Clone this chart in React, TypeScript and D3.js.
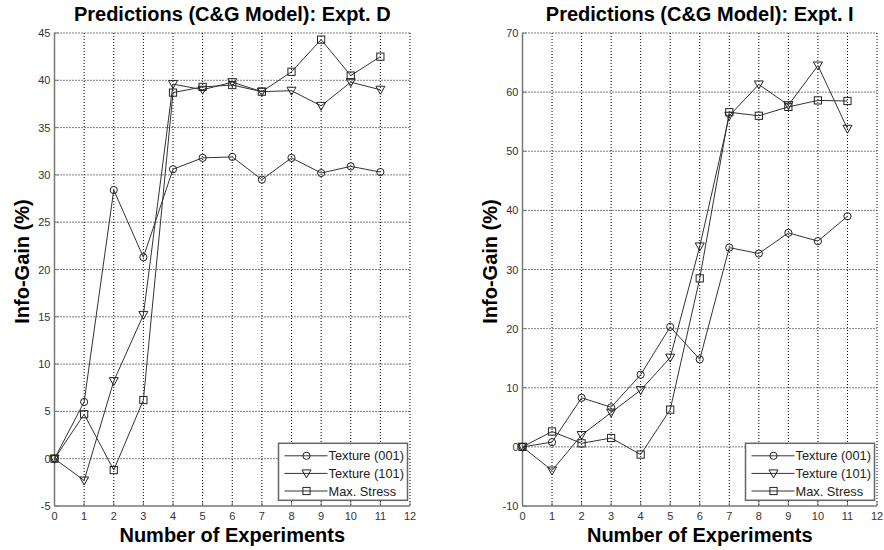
import React from "react";
import * as d3 from "d3";

const experiments = [0, 1, 2, 3, 4, 5, 6, 7, 8, 9, 10, 11];
const seriesNames = ["Texture (001)", "Texture (101)", "Max. Stress"];
const markerKinds = ["circle", "triangle", "square"];

// Expt. D
const dTexture001 = [0, 6.0, 28.4, 21.3, 30.6, 31.8, 31.9, 29.5, 31.8, 30.2, 30.9, 30.3];
const dTexture101 = [0, -2.3, 8.2, 15.2, 39.6, 39.0, 39.8, 38.8, 38.9, 37.3, 39.8, 39.0];
const dMaxStress = [0, 4.7, -1.2, 6.2, 38.7, 39.3, 39.5, 38.8, 40.9, 44.3, 40.5, 42.5];

// Expt. I
const iTexture001 = [0, 0.8, 8.3, 6.7, 12.2, 20.3, 14.8, 33.7, 32.7, 36.2, 34.8, 39.0];
const iTexture101 = [0, -4.0, 2.0, 5.8, 9.6, 15.1, 33.9, 56.0, 61.3, 57.8, 64.5, 53.8];
const iMaxStress = [0, 2.6, 0.6, 1.5, -1.3, 6.3, 28.5, 56.6, 56.0, 57.5, 58.6, 58.5];

const xTickValues = [0, 1, 2, 3, 4, 5, 6, 7, 8, 9, 10, 11, 12];
const yTicksD = [-5, 0, 5, 10, 15, 20, 25, 30, 35, 40, 45];
const yTicksI = [-10, 0, 10, 20, 30, 40, 50, 60, 70];

const titleD = "Predictions (C&G Model): Expt. D";
const titleI = "Predictions (C&G Model): Expt. I";
const xLabel = "Number of Experiments";
const yLabel = "Info-Gain (%)";

const FONT = "'Liberation Sans', Arial, sans-serif";

function Marker({ kind, x, y }: { kind: string; x: number; y: number }) {
  const stroke = "#222";
  if (kind === "circle") {
    return <circle cx={x} cy={y} r={3.6} fill="none" stroke={stroke} strokeWidth={1} />;
  }
  if (kind === "triangle") {
    const w = 4.5;
    const p = `${x - w},${y - 3.5} ${x + w},${y - 3.5} ${x},${y + 4.5}`;
    return <polygon points={p} fill="none" stroke={stroke} strokeWidth={1} />;
  }
  return <rect x={x - 3.6} y={y - 3.6} width={7.2} height={7.2} fill="none" stroke={stroke} strokeWidth={1} />;
}

function Panel({
  left,
  right,
  yMin,
  yMax,
  yTicks,
  series,
  title,
}: {
  left: number;
  right: number;
  yMin: number;
  yMax: number;
  yTicks: number[];
  series: number[][];
  title: string;
}) {
  const top = 33;
  const bottom = 506;
  const x = d3.scaleLinear().domain([0, 12]).range([left, right]);
  const y = d3.scaleLinear().domain([yMin, yMax]).range([bottom, top]);
  const line = d3
    .line<number>()
    .x((_, i) => x(experiments[i]))
    .y((d) => y(d));
  const cx = (left + right) / 2;
  const legW = 129;
  const legX = right - 2.5 - legW;
  const legY = 443.3;
  return (
    <g>
      {/* grid */}
      {xTickValues.slice(1).map((t) => (
        <line key={"gx" + t} x1={x(t)} x2={x(t)} y1={top} y2={bottom} stroke="#000" strokeWidth={1} strokeDasharray="1,2" />
      ))}
      {yTicks.slice(1).map((t) => (
        <line key={"gy" + t} x1={left} x2={right} y1={y(t)} y2={y(t)} stroke="#000" strokeWidth={1} strokeDasharray="1,2" />
      ))}
      {/* axes */}
      <line x1={left} x2={left} y1={top} y2={bottom} stroke="#777" strokeWidth={1.5} />
      <line x1={left} x2={right} y1={bottom} y2={bottom} stroke="#777" strokeWidth={1.5} />
      {xTickValues.map((t) => (
        <g key={"xt" + t}>
          <line x1={x(t)} x2={x(t)} y1={bottom} y2={bottom - 4} stroke="#777" />
          <text x={x(t)} y={bottom + 14} textAnchor="middle" fontSize={11} fontFamily={FONT} fill="#333">
            {t}
          </text>
        </g>
      ))}
      {yTicks.map((t) => (
        <g key={"yt" + t}>
          <line x1={left} x2={left + 4} y1={y(t)} y2={y(t)} stroke="#777" />
          <text x={left - 4} y={y(t) + 4} textAnchor="end" fontSize={11} fontFamily={FONT} fill="#333">
            {t}
          </text>
        </g>
      ))}
      {/* series */}
      {series.map((s, si) => (
        <g key={"s" + si}>
          <path d={line(s) || ""} fill="none" stroke="#333" strokeWidth={1} />
          {s.map((v, i) => (
            <Marker key={i} kind={markerKinds[si]} x={x(experiments[i])} y={y(v)} />
          ))}
        </g>
      ))}
      {/* legend */}
      <rect x={legX} y={legY} width={legW} height={57} fill="#fff" stroke="#666" strokeWidth={1.5} />
      {seriesNames.map((n, i) => {
        const ly = legY + 12.5 + i * 17.6;
        return (
          <g key={"l" + i}>
            <line x1={legX + 6} x2={legX + 49} y1={ly} y2={ly} stroke="#333" />
            <Marker kind={markerKinds[i]} x={legX + 28} y={ly} />
            <text x={legX + 50} y={ly + 4.5} fontSize={12.8} fontFamily={FONT} fill="#222">
              {n}
            </text>
          </g>
        );
      })}
      {/* titles */}
      <text x={cx} y={21} textAnchor="middle" fontSize={20} fontWeight="bold" fontFamily={FONT} fill="#000">
        {title}
      </text>
      <text x={cx} y={542} textAnchor="middle" fontSize={20} fontWeight="bold" fontFamily={FONT} fill="#000">
        {xLabel}
      </text>
      <text
        transform={`translate(${left - 26},${(top + bottom) / 2 - 8}) rotate(-90)`}
        textAnchor="middle"
        fontSize={20}
        fontWeight="bold"
        fontFamily={FONT}
        fill="#000"
      >
        {yLabel}
      </text>
    </g>
  );
}

export default function App() {
  return (
    <svg width={884} height={550} style={{ position: "absolute", left: 0, top: 0, background: "#fff" }}>
      <rect x={0} y={0} width={884} height={550} fill="#fff" />
      <Panel
        left={54.5}
        right={410}
        yMin={-5}
        yMax={45}
        yTicks={yTicksD}
        series={[dTexture001, dTexture101, dMaxStress]}
        title={titleD}
      />
      <Panel
        left={522.5}
        right={877}
        yMin={-10}
        yMax={70}
        yTicks={yTicksI}
        series={[iTexture001, iTexture101, iMaxStress]}
        title={titleI}
      />
    </svg>
  );
}
